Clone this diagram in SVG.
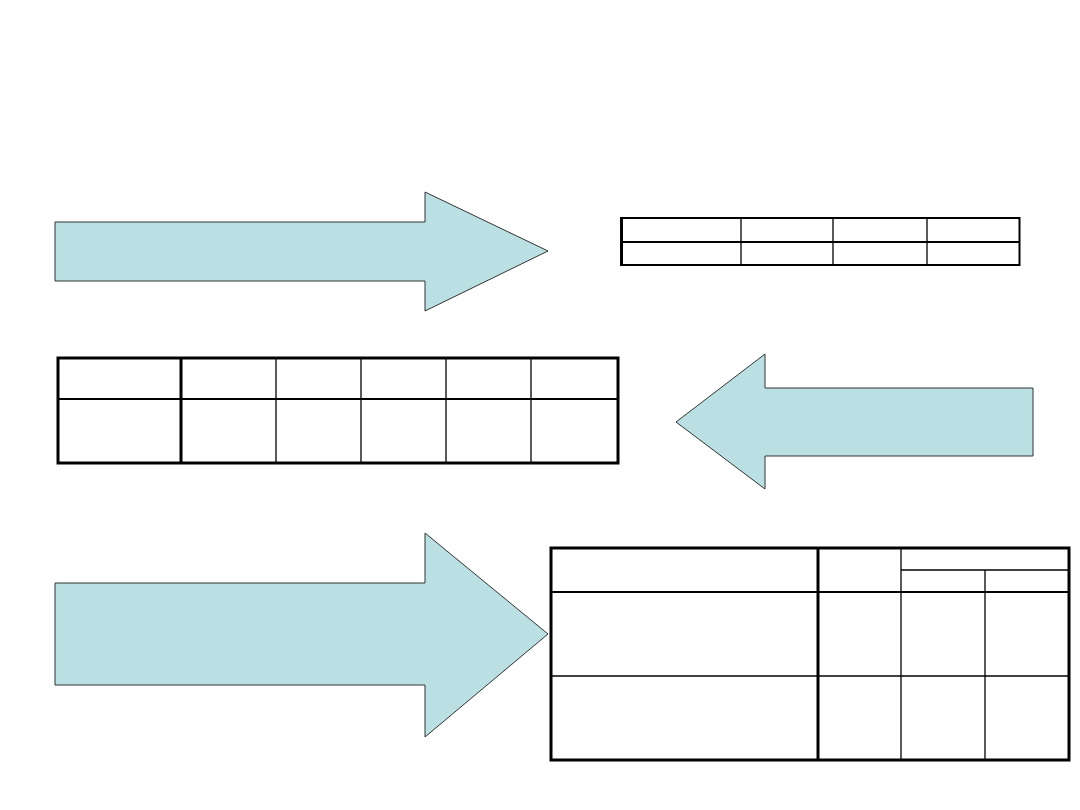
<svg xmlns="http://www.w3.org/2000/svg" width="1080" height="810" viewBox="0 0 1080 810">
<style>
.arrow{fill:#bbe0e3;stroke:#333;stroke-width:1;stroke-linejoin:miter}
.thin{stroke:#000;stroke-width:1.3;fill:none}
.mid{stroke:#000;stroke-width:2;fill:none}
.thick{stroke:#000;stroke-width:3;fill:none}
</style>
<rect width="1080" height="810" fill="#fff"/>
<g id="arrow1"><polygon class="arrow" points="55,222 425,222 425,192 548,251 425,311 425,281 55,281"/></g>
<g id="arrow2"><polygon class="arrow" points="1033,388 765,388 765,354 676,422 765,489 765,456 1033,456"/></g>
<g id="arrow3"><polygon class="arrow" points="55,583 425,583 425,533 548,634 425,737 425,685 55,685"/></g>
<g id="table1">
<line class="thin" x1="741" y1="218" x2="741" y2="265"/>
<line class="thin" x1="833" y1="218" x2="833" y2="265"/>
<line class="thin" x1="927" y1="218" x2="927" y2="265"/>
<line class="mid" x1="621" y1="242" x2="1020" y2="242"/>
<line class="mid" x1="621" y1="218" x2="1020" y2="218"/>
<line class="mid" x1="621" y1="265" x2="1020" y2="265"/>
<line class="mid" x1="1019.5" y1="217" x2="1019.5" y2="266"/>
<line class="thick" x1="621.5" y1="217" x2="621.5" y2="266"/>
</g>
<g id="table2">
<line class="thin" x1="276" y1="358" x2="276" y2="463"/>
<line class="thin" x1="361" y1="358" x2="361" y2="463"/>
<line class="thin" x1="446" y1="358" x2="446" y2="463"/>
<line class="thin" x1="531" y1="358" x2="531" y2="463"/>
<line class="mid" x1="58" y1="399" x2="618" y2="399"/>
<line class="thick" x1="181" y1="358" x2="181" y2="463"/>
<rect class="thick" x="58" y="358" width="560" height="105"/>
</g>
<g id="table3">
<line class="mid" x1="901" y1="548" x2="1069" y2="548"/>
<line class="thin" x1="901" y1="570" x2="1069" y2="570"/>
<line class="thin" x1="985" y1="570" x2="985" y2="760"/>
<line class="thin" x1="901" y1="548" x2="901" y2="760"/>
<line class="thin" x1="551" y1="676" x2="1069" y2="676"/>
<line class="mid" x1="551" y1="592" x2="1069" y2="592"/>
<line class="thick" x1="818" y1="548" x2="818" y2="760"/>
<rect class="thick" x="551" y="548" width="518" height="212"/>
</g>
<g id="connectors"></g>
</svg>
